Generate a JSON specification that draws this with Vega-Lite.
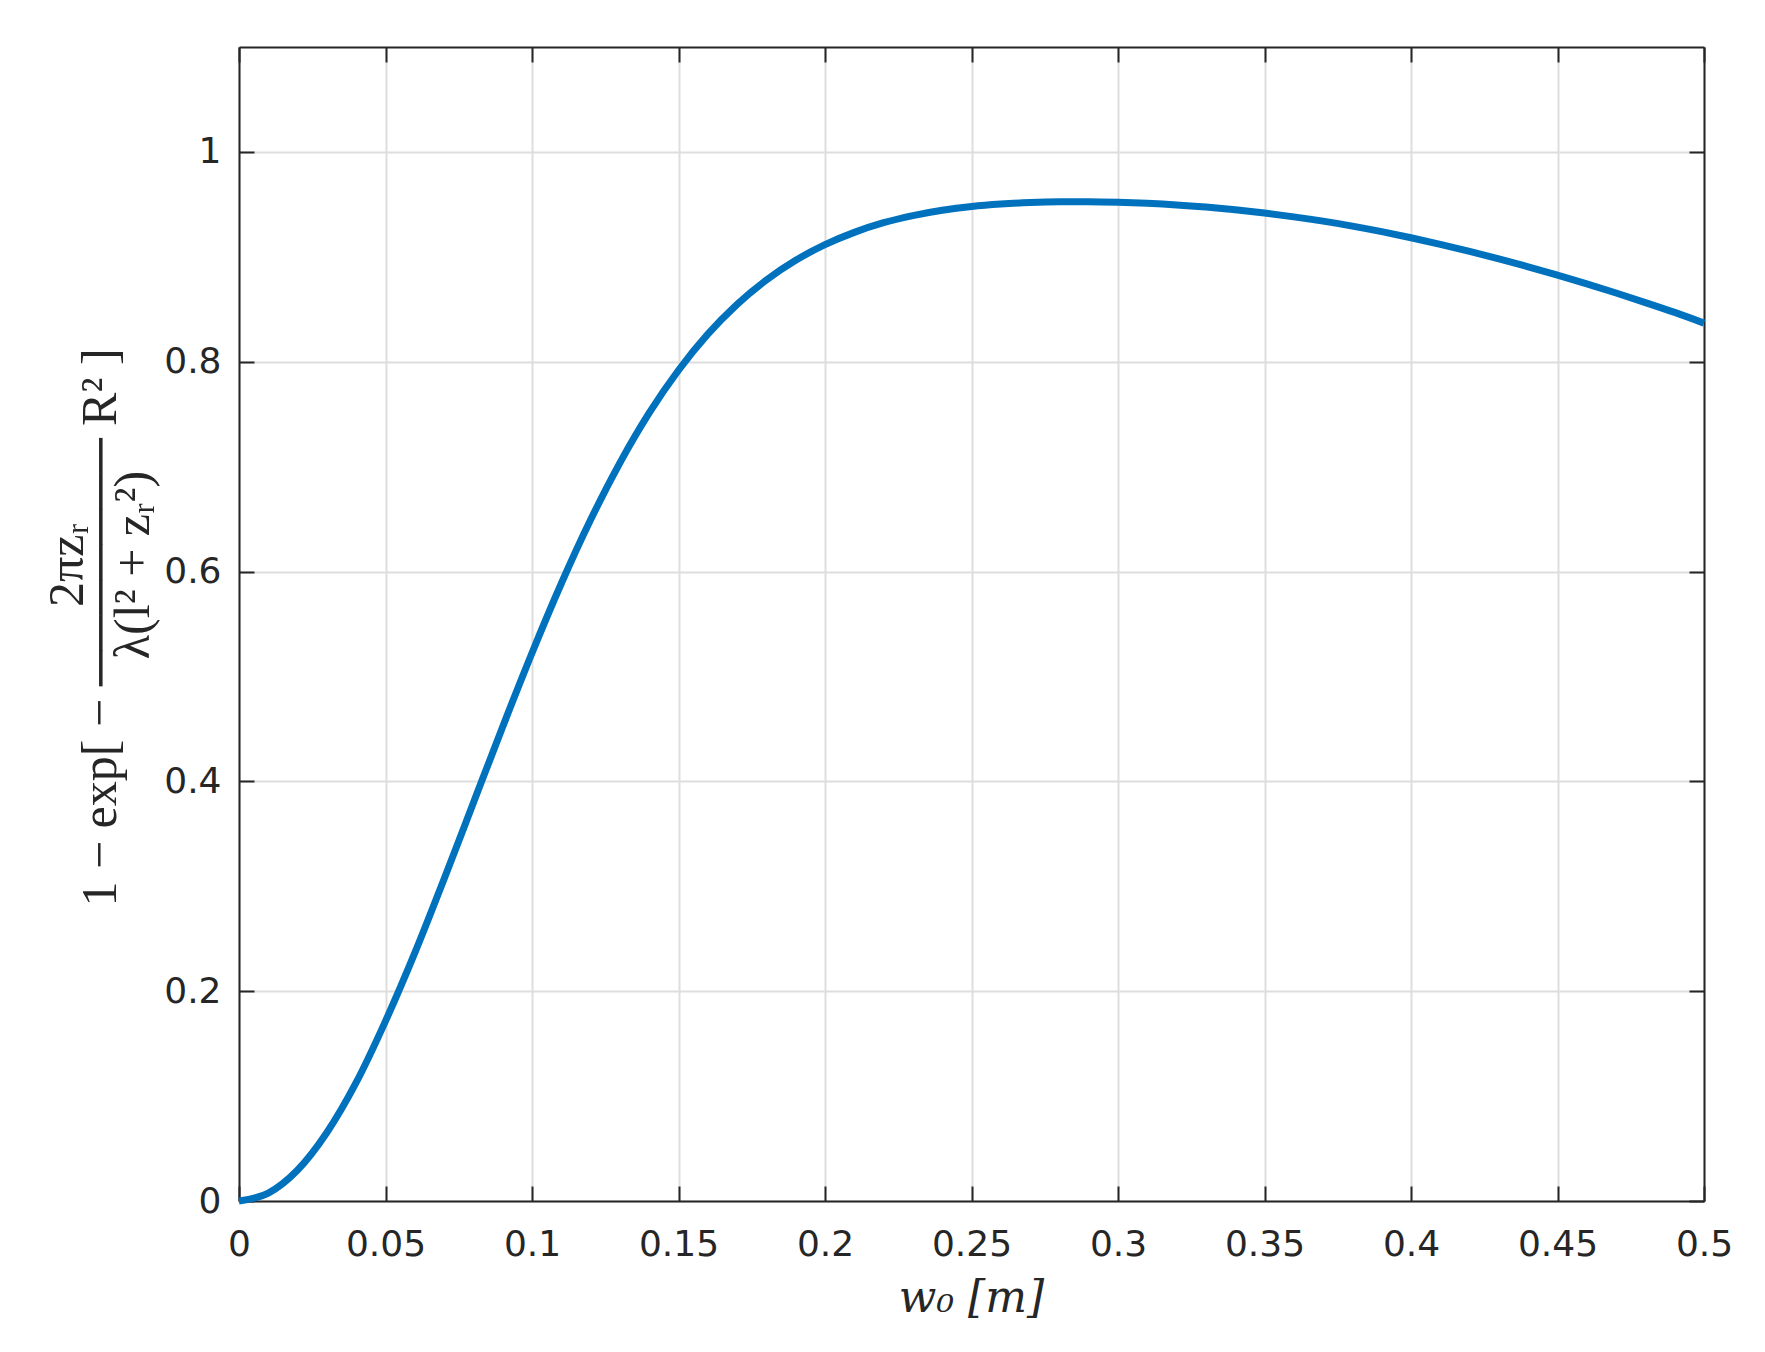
{
  "$schema": "https://vega.github.io/schema/vega-lite/v6.json",
  "width": 1465,
  "height": 1154,
  "autosize": {"type": "none"},
  "padding": {"left": 239, "top": 47, "right": 61, "bottom": 151},
  "background": "white",
  "config": {"view": {"stroke": null}},
  "data": {"values": [
    {"w": 0, "p": 0},
    {"w": 0.01, "p": 0.0075},
    {"w": 0.02, "p": 0.0295},
    {"w": 0.03, "p": 0.0653},
    {"w": 0.04, "p": 0.113},
    {"w": 0.05, "p": 0.1715},
    {"w": 0.06, "p": 0.2365},
    {"w": 0.07, "p": 0.307},
    {"w": 0.08, "p": 0.3795},
    {"w": 0.09, "p": 0.4521},
    {"w": 0.1, "p": 0.5224},
    {"w": 0.11, "p": 0.5886},
    {"w": 0.12, "p": 0.6493},
    {"w": 0.13, "p": 0.7036},
    {"w": 0.14, "p": 0.7512},
    {"w": 0.15, "p": 0.7919},
    {"w": 0.16, "p": 0.8263},
    {"w": 0.17, "p": 0.8547},
    {"w": 0.18, "p": 0.8779},
    {"w": 0.19, "p": 0.8967},
    {"w": 0.2, "p": 0.9116},
    {"w": 0.21, "p": 0.9233},
    {"w": 0.22, "p": 0.9325},
    {"w": 0.23, "p": 0.9393},
    {"w": 0.24, "p": 0.9444},
    {"w": 0.25, "p": 0.948},
    {"w": 0.26, "p": 0.9503},
    {"w": 0.27, "p": 0.9517},
    {"w": 0.28, "p": 0.9524},
    {"w": 0.29, "p": 0.9525},
    {"w": 0.3, "p": 0.952},
    {"w": 0.31, "p": 0.951},
    {"w": 0.32, "p": 0.9495},
    {"w": 0.33, "p": 0.9474},
    {"w": 0.34, "p": 0.9448},
    {"w": 0.35, "p": 0.9417},
    {"w": 0.36, "p": 0.9381},
    {"w": 0.37, "p": 0.934},
    {"w": 0.38, "p": 0.9293},
    {"w": 0.39, "p": 0.924},
    {"w": 0.4, "p": 0.9182},
    {"w": 0.41, "p": 0.9119},
    {"w": 0.42, "p": 0.9052},
    {"w": 0.43, "p": 0.8981},
    {"w": 0.44, "p": 0.8905},
    {"w": 0.45, "p": 0.8825},
    {"w": 0.46, "p": 0.8742},
    {"w": 0.47, "p": 0.8655},
    {"w": 0.48, "p": 0.8564},
    {"w": 0.49, "p": 0.847},
    {"w": 0.5, "p": 0.8368}
  ]},
  "layer": [
    {
      "mark": {"type": "line", "color": "#0072BD", "strokeWidth": 7, "interpolate": "monotone", "clip": false},
      "encoding": {
        "x": {
          "field": "w", "type": "quantitative",
          "scale": {"domain": [0, 0.5], "nice": false, "zero": false},
          "axis": {
            "orient": "bottom",
            "values": [0, 0.05, 0.1, 0.15, 0.2, 0.25, 0.3, 0.35, 0.4, 0.45, 0.5],
            "labelExpr": "'' + datum.value",
            "grid": true, "gridColor": "#dedede", "gridWidth": 2,
            "domainColor": "#262626", "domainWidth": 2,
            "tickColor": "#262626", "tickWidth": 2, "tickSize": -15,
            "labelPadding": 41, "labelFont": "DejaVu Sans", "labelFontSize": 36, "labelColor": "#262626",
            "labelFlush": false, "labelOverlap": false,
            "title": "w₀ [m]", "titleFont": "DejaVu Serif", "titleFontStyle": "italic", "titleFontWeight": "normal",
            "titleFontSize": 44, "titleColor": "#262626",
            "titleX": 732, "titleY": 97, "titleBaseline": "middle", "titleAnchor": "middle"
          }
        },
        "y": {
          "field": "p", "type": "quantitative",
          "scale": {"domain": [0, 1.1], "nice": false, "zero": false},
          "axis": {
            "orient": "left",
            "values": [0, 0.2, 0.4, 0.6, 0.8, 1],
            "labelExpr": "'' + datum.value",
            "grid": true, "gridColor": "#dedede", "gridWidth": 2,
            "domainColor": "#262626", "domainWidth": 2,
            "tickColor": "#262626", "tickWidth": 2, "tickSize": -15,
            "labelPadding": 33, "labelFont": "DejaVu Sans", "labelFontSize": 36, "labelColor": "#262626",
            "labelFlush": false, "labelOverlap": false,
            "title": [
              "\u200b\u00a0\u00a0\u00a0\u00a0\u00a0\u00a0\u00a0\u00a0\u00a0\u00a02πzᵣ",
              "1\u00a0−\u00a0exp[\u00a0−\u00a0───────\u00a0R²\u00a0]",
              "\u200b\u00a0\u00a0\u00a0\u00a0\u00a0\u00a0\u00a0\u00a0\u00a0\u00a0λ(l²\u00a0+\u00a0zᵣ²)"
            ],
            "titleFont": "Liberation Serif", "titleFontWeight": "normal", "titleFontSize": 50,
            "titleLineHeight": 33, "titleColor": "#262626",
            "titleAngle": 270, "titleX": -172, "titleY": 580, "titleBaseline": "middle", "titleAlign": "center", "titleAnchor": "middle"
          }
        }
      }
    },
    {
      "mark": {"type": "line", "opacity": 0},
      "encoding": {
        "x": {
          "field": "w", "type": "quantitative",
          "scale": {"domain": [0, 0.5], "nice": false, "zero": false},
          "axis": {
            "orient": "top", "values": [0, 0.05, 0.1, 0.15, 0.2, 0.25, 0.3, 0.35, 0.4, 0.45, 0.5],
            "labels": false, "grid": false, "title": null,
            "domainColor": "#262626", "domainWidth": 2,
            "tickColor": "#262626", "tickWidth": 2, "tickSize": -15
          }
        },
        "y": {
          "field": "p", "type": "quantitative",
          "scale": {"domain": [0, 1.1], "nice": false, "zero": false},
          "axis": {
            "orient": "right", "values": [0, 0.2, 0.4, 0.6, 0.8, 1],
            "labels": false, "grid": false, "title": null,
            "domainColor": "#262626", "domainWidth": 2,
            "tickColor": "#262626", "tickWidth": 2, "tickSize": -15
          }
        }
      }
    }
  ],
  "resolve": {"axis": {"x": "independent", "y": "independent"}}
}
